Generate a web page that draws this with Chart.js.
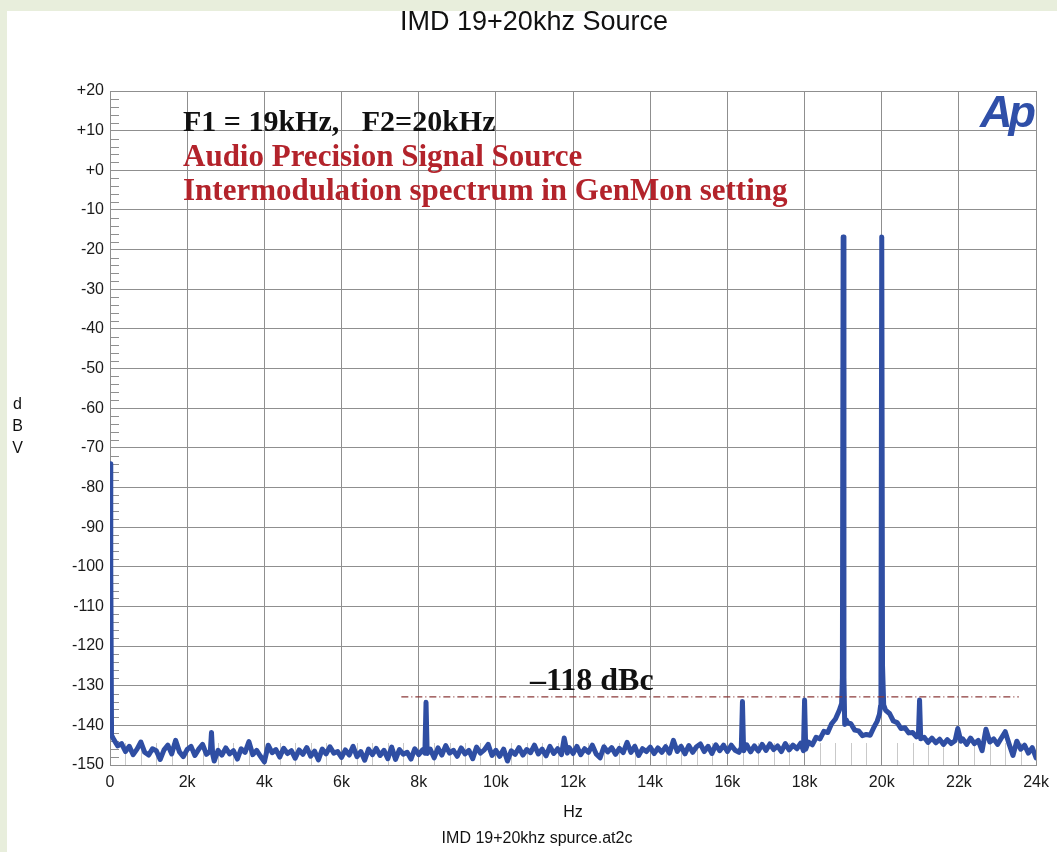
<!DOCTYPE html>
<html>
<head>
<meta charset="utf-8">
<script src="https://cdn.jsdelivr.net/npm/chart.js@4.4.1/dist/chart.umd.min.js"></script>
<style>
  html, body { margin: 0; padding: 0; background: #e8eedc; }
  #panel { position: absolute; left: 7px; top: 11px; width: 1050px; height: 841px; background: #fff; }
  canvas { display: block; }
</style>
</head>
<body>
<div id="panel"><canvas id="myChart" width="1050" height="841"></canvas></div>
<script>
// spectrum, frequency in kHz / level in dBV
const freqKHz = [
  0, 0.02, 0.04, 0.1, 0.2, 0.3, 0.4, 0.5, 0.6, 0.7, 0.8, 0.9,
  1.0, 1.1, 1.2, 1.3, 1.4, 1.5, 1.6, 1.7, 1.8, 1.9,
  2.0, 2.1, 2.2, 2.3, 2.4, 2.5, 2.6, 2.63, 2.66, 2.7, 2.8, 2.9,
  3.0, 3.1, 3.2, 3.3, 3.4, 3.5, 3.6, 3.7, 3.8, 3.9,
  4.0, 4.1, 4.2, 4.3, 4.4, 4.5, 4.6, 4.7, 4.8, 4.9,
  5.0, 5.1, 5.2, 5.3, 5.4, 5.5, 5.6, 5.7, 5.8, 5.9,
  6.0, 6.1, 6.2, 6.3, 6.4, 6.5, 6.6, 6.7, 6.8, 6.9,
  7.0, 7.1, 7.2, 7.3, 7.4, 7.5, 7.6, 7.7, 7.8, 7.9,
  8.0, 8.1, 8.16, 8.19, 8.22, 8.3, 8.4, 8.5, 8.6, 8.7, 8.8, 8.9,
  9.0, 9.1, 9.2, 9.3, 9.4, 9.5, 9.6, 9.7, 9.8, 9.9,
  10.0, 10.1, 10.2, 10.3, 10.4, 10.5, 10.6, 10.7, 10.8, 10.9,
  11.0, 11.1, 11.2, 11.3, 11.4, 11.5, 11.6, 11.7, 11.77, 11.85, 11.9,
  12.0, 12.1, 12.2, 12.3, 12.4, 12.5, 12.6, 12.7, 12.8, 12.9,
  13.0, 13.1, 13.2, 13.3, 13.4, 13.5, 13.6, 13.7, 13.8, 13.9,
  14.0, 14.1, 14.2, 14.3, 14.4, 14.5, 14.6, 14.7, 14.8, 14.9,
  15.0, 15.1, 15.2, 15.3, 15.4, 15.5, 15.6, 15.7, 15.8, 15.9,
  16.0, 16.1, 16.2, 16.3, 16.36, 16.39, 16.42, 16.5, 16.6, 16.7, 16.8, 16.9,
  17.0, 17.1, 17.2, 17.3, 17.4, 17.5, 17.6, 17.7, 17.8, 17.9,
  17.97, 18.0, 18.03, 18.1, 18.2, 18.3, 18.4, 18.5, 18.6, 18.7, 18.8, 18.9, 18.96, 18.98,
  19.0, 19.02, 19.04, 19.08, 19.12, 19.2, 19.3, 19.4, 19.5, 19.6, 19.7, 19.8, 19.88, 19.94, 19.97, 19.98,
  20.0, 20.02, 20.05, 20.1, 20.2, 20.3, 20.4, 20.5, 20.6, 20.7, 20.8, 20.9, 20.95,
  20.98, 21.01, 21.1, 21.2, 21.3, 21.4, 21.5, 21.6, 21.7, 21.8, 21.9,
  21.97, 22.05, 22.1, 22.2, 22.3, 22.4, 22.5, 22.6, 22.7, 22.8, 22.9,
  23.0, 23.1, 23.2, 23.3, 23.4, 23.5, 23.6, 23.7, 23.8, 23.9, 24.0
];
const levelDbv = [
  -74, -100, -142.5, -143.6, -145.2, -144.6, -146.6, -145.3, -147.4, -146.0, -144.2, -146.8,
  -147.5, -145.9, -146.4, -148.6, -146.2, -145.0, -147.2, -143.8, -146.7, -147.9,
  -146.1, -145.3, -147.6, -146.0, -144.8, -147.3, -146.5, -141.8, -147.2, -149.0, -146.3, -147.5,
  -145.7, -147.2, -146.4, -148.5, -145.9, -146.8, -144.1, -147.4, -146.3, -147.8,
  -149.2, -145.0, -146.9, -146.1, -148.0, -145.8, -147.1, -146.4, -148.3, -146.2,
  -147.3, -145.6, -147.8, -146.5, -148.7, -146.0, -147.2, -145.4, -147.0, -146.6,
  -148.1, -146.2, -147.5, -145.3, -147.9, -146.6, -148.8, -146.0, -147.4, -145.8,
  -147.6, -146.3, -148.4, -145.5, -148.6, -146.1, -147.3, -146.8, -148.5, -145.9,
  -147.4, -146.2, -147.0, -134.2, -147.1, -146.0, -148.2, -145.7, -147.5, -145.1, -147.0, -146.3,
  -147.8, -145.7, -147.2, -146.3, -148.4, -145.5, -147.0, -146.2, -144.8, -147.6,
  -146.3, -147.8, -146.0, -149.0, -146.4, -147.3, -145.6, -147.5, -146.1, -146.9,
  -145.0, -147.2, -146.0, -147.7, -145.3, -147.1, -145.9, -147.4, -143.2, -147.0, -145.6,
  -147.1, -145.3, -147.4, -145.9, -146.8, -145.0, -147.2, -148.2, -145.4, -146.7,
  -145.6, -147.3, -145.8, -146.9, -144.3, -146.8, -145.3, -147.6, -145.9, -146.6,
  -145.5, -147.1, -145.7, -146.8, -145.4, -147.0, -143.8, -146.6, -145.3, -147.2,
  -145.1, -146.8, -145.4, -144.7, -146.6, -145.3, -147.1, -144.9, -146.4, -145.0,
  -146.6, -145.0, -146.3, -146.8, -145.6, -134.0, -146.4, -144.9, -146.7, -145.2, -146.5, -144.8,
  -146.3, -144.7, -146.1, -145.2, -146.6, -144.6, -146.2, -145.0, -145.9, -144.5,
  -146.4, -133.6, -146.0, -144.2, -144.9, -143.0, -143.4, -141.5, -141.8, -139.6, -138.4, -136.2, -134.5, -128,
  -16.8, -128, -139.8, -138.6, -139.4, -139.6, -141.2, -141.4, -142.6, -142.3, -142.5, -140.4, -139.0, -137.2, -135.0, -128,
  -16.8, -125, -134.8, -136.2, -137.0, -138.9, -139.3, -140.8, -140.6, -141.9, -141.8, -142.9, -142.4,
  -133.6, -143.4, -143.0, -144.3, -143.2, -144.4, -143.5, -144.8, -143.6, -144.6, -143.9,
  -140.8, -144.0, -143.4, -144.8, -143.2, -144.6, -143.8, -146.4, -141.0, -144.2, -143.4,
  -144.8, -143.2, -141.6, -144.7, -147.6, -144.0, -146.0, -145.0, -147.0, -145.6, -148.2
];

// dash-dot marker line (-118 dBc relative to the tones)
const refLineKHz = [7.55, 23.55];
const refLineDbv = [-132.8, -132.8];

// axis ranges / ticks
const xTicksKHz = [0, 24, 2];      // min, max, step
const yTicksDbv = [-150, 20, 10];  // min, max, step
const xMinorStep = 0.4;
const yMinorStep = 2;

const noteLines = ["F1 = 19kHz,   F2=20kHz", "Audio Precision Signal Source", "Intermodulation spectrum in GenMon setting"];

const gridColor = '#8f8f8f';
const sans = '"Liberation Sans", Arial, sans-serif';
const serif = '"Liberation Serif", "Times New Roman", serif';

const extras = {
  id: 'extras',
  beforeDatasetsDraw(chart) {
    const { ctx, chartArea: a, scales: { x, y } } = chart;
    ctx.save();
    ctx.lineWidth = 1;
    // minor x ticks, rising from the bottom
    ctx.strokeStyle = '#c9c9c9';
    for (let v = xTicksKHz[0]; v <= xTicksKHz[1] + 1e-6; v += xMinorStep) {
      const r = Math.round(v * 10) / 10;
      if (Math.abs(r / xTicksKHz[2] - Math.round(r / xTicksKHz[2])) < 1e-6) continue;
      const px = Math.round(x.getPixelForValue(r)) + 0.5;
      ctx.beginPath(); ctx.moveTo(px, a.bottom); ctx.lineTo(px, a.bottom - 22); ctx.stroke();
    }
    // minor y ticks on the left edge
    ctx.strokeStyle = gridColor;
    for (let v = yTicksDbv[0]; v <= yTicksDbv[1]; v += yMinorStep) {
      if (v % yTicksDbv[2] === 0) continue;
      const py = Math.round(y.getPixelForValue(v)) + 0.5;
      ctx.beginPath(); ctx.moveTo(a.left, py); ctx.lineTo(a.left + 9, py); ctx.stroke();
    }
    ctx.restore();
  },
  afterDraw(chart) {
    const { ctx, chartArea: a } = chart;
    ctx.save();
    ctx.fillStyle = '#111';
    ctx.textAlign = 'center';
    ctx.textBaseline = 'middle';
    ctx.font = '27px ' + sans;
    ctx.fillText('IMD 19+20khz Source', 527, 12);
    ctx.font = '16px ' + sans;
    ctx.fillText('Hz', (a.left + a.right) / 2, 802);
    ctx.fillText('IMD 19+20khz spurce.at2c', 530, 828);
    ['d', 'B', 'V'].forEach((c, i) => ctx.fillText(c, 10.5, 394 + i * 22));

    // notes
    ctx.textAlign = 'left';
    ctx.textBaseline = 'alphabetic';
    ctx.font = 'bold 30px ' + serif;
    ctx.fillStyle = '#111';
    ctx.fillText(noteLines[0], 176, 120);
    ctx.font = 'bold 31px ' + serif;
    ctx.fillStyle = '#b3232b';
    ctx.fillText(noteLines[1], 176, 155);
    ctx.fillText(noteLines[2], 176, 189);
    ctx.fillStyle = '#111';
    ctx.font = 'bold 32px ' + serif;
    ctx.fillText('\u2013118 dBc', 523, 679);

    // Ap logo
    ctx.fillStyle = '#2f4fa8';
    ctx.font = 'italic bold 45px ' + sans;
    ctx.letterSpacing = '-4px';
    ctx.fillText('Ap', 973, 116);
    ctx.restore();
  }
};

const tickFont = { family: sans, size: 16 };

new Chart(document.getElementById('myChart').getContext('2d'), {
  type: 'line',
  data: {
    datasets: [{
      label: 'IMD spectrum',
      data: freqKHz.map((f, i) => ({ x: f, y: levelDbv[i] })),
      borderColor: '#2f4ea3',
      borderWidth: 5,
      borderJoinStyle: 'round',
      borderCapStyle: 'round',
      pointRadius: 0,
      tension: 0,
      order: 2
    }, {
      label: '-118 dBc',
      data: refLineKHz.map((f, i) => ({ x: f, y: refLineDbv[i] })),
      borderColor: '#8b3a3a',
      borderWidth: 1.2,
      borderDash: [7, 3, 1, 3],
      pointRadius: 0,
      order: 1
    }]
  },
  options: {
    responsive: false,
    animation: false,
    layout: { padding: { top: 80, right: 19, left: 0, bottom: 0 } },
    plugins: { legend: { display: false }, tooltip: { enabled: false }, title: { display: false } },
    scales: {
      x: {
        type: 'linear',
        min: xTicksKHz[0], max: xTicksKHz[1],
        afterFit(s) { s.height = 87; },
        grid: { color: gridColor, drawTicks: false },
        border: { color: gridColor },
        ticks: {
          stepSize: xTicksKHz[2], padding: 8, color: '#1a1a1a', font: tickFont, maxRotation: 0,
          callback: v => v === 0 ? '0' : v + 'k'
        }
      },
      y: {
        min: yTicksDbv[0], max: yTicksDbv[1],
        afterFit(s) { s.width = 103; },
        grid: { color: gridColor, drawTicks: false },
        border: { color: gridColor },
        ticks: {
          stepSize: yTicksDbv[2], padding: 6, color: '#1a1a1a', font: tickFont,
          callback: v => v > 0 ? '+' + v : (v === 0 ? '+0' : String(v))
        }
      }
    }
  },
  plugins: [extras]
});
</script>
</body>
</html>
